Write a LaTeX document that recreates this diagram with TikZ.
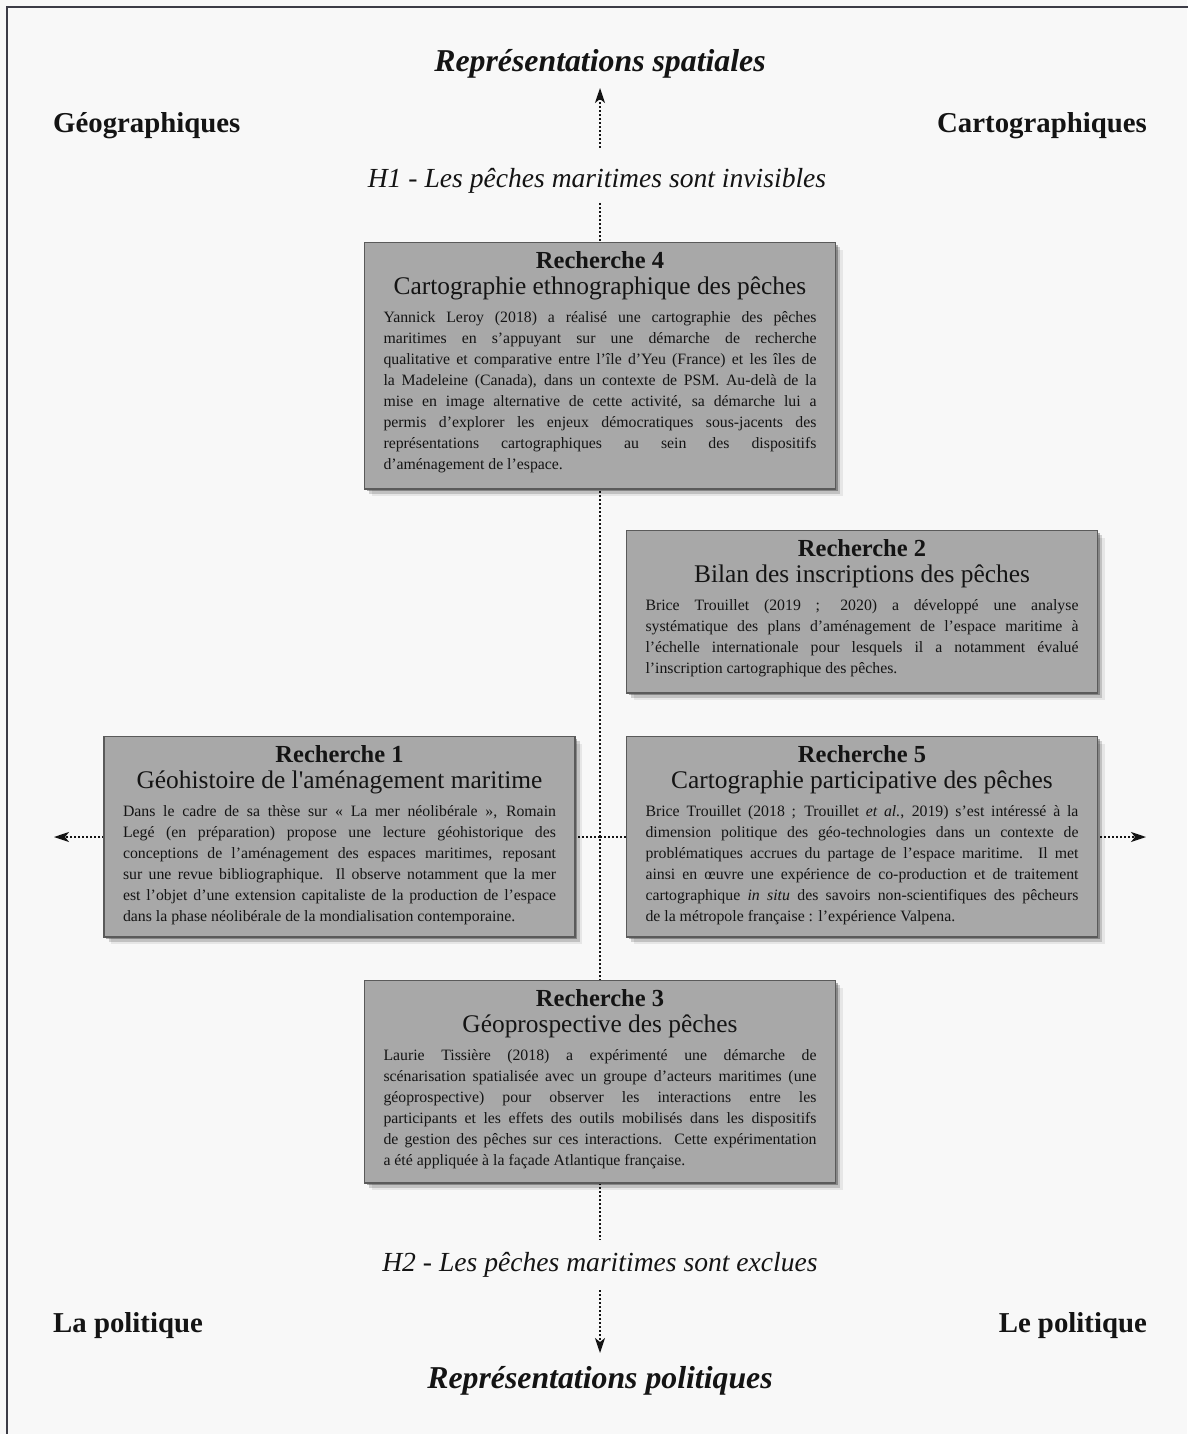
\documentclass[tikz,border=0pt]{standalone}
\usepackage{fontspec}
\setmainfont{Liberation Serif}[Ligatures=TeXOff]
\usetikzlibrary{arrows.meta,shadows}
\definecolor{pagebg}{HTML}{F8F8F8}
\definecolor{boxfill}{HTML}{A8A8A8}
\definecolor{boxline}{HTML}{5A5A5A}
\definecolor{framecol}{HTML}{3C3C46}
\definecolor{inkcol}{HTML}{141414}
\newcommand\bodyfnt{\fontsize{15.8}{21}\selectfont}
\newcommand\headfnt{\fontsize{24.5}{27}\selectfont\bfseries}
\newcommand\subfnt{\fontsize{25.4}{26}\selectfont}
\newcommand\titlefnt{\fontsize{31.8}{34}\selectfont\bfseries\itshape}
\newcommand\cornerfnt{\fontsize{28.8}{30}\selectfont\bfseries}
\newcommand\hypfnt{\fontsize{27.6}{30}\selectfont\itshape}
\pgfdeclarelayer{background}
\pgfsetlayers{background,main}
\tikzset{
  rbox/.style={draw=boxline, line width=1.3pt, fill=boxfill, text=inkcol,
    text width=433pt, inner xsep=19pt, inner ysep=8.5pt, anchor=north,
    font=\bodyfnt, align=justify,
    drop shadow={shadow xshift=2pt, shadow yshift=-2pt, opacity=0.3, fill=black},
    drop shadow={shadow xshift=4.5pt, shadow yshift=-4.5pt, opacity=0.16, fill=black},
    drop shadow={shadow xshift=7pt, shadow yshift=-7pt, opacity=0.07, fill=black}},
  lbl/.style={inner sep=0pt, text=inkcol},
  dotline/.style={line width=1.7pt, dash pattern=on 1.7pt off 2.3pt, draw=inkcol},
  arr/.style={-{Stealth[length=15pt,width=10pt,inset=4pt]}}
}
\newcommand\rhead[2]{{\centering{\headfnt #1\par}{\subfnt #2\par}}\vspace{7pt}\bodyfnt\hyphenpenalty=10000\exhyphenpenalty=10000\tolerance=10000 }
\begin{document}
\begin{tikzpicture}[x=1pt,y=-1pt]
\useasboundingbox (0,0) rectangle (1187,1434);
\begin{pgfonlayer}{background}
\fill[pagebg] (0,0) rectangle (1187,1434);
\draw[framecol, line width=2.4pt] (7,1440) -- (7,7) -- (1195,7);
\end{pgfonlayer}

% labels
\node[lbl, font=\titlefnt] (ttl) at (600,64) {Représentations spatiales};
\node[lbl, font=\titlefnt] (btl) at (600,1381) {Représentations politiques};
\node[lbl, font=\cornerfnt, anchor=west] (geo) at (53,126) {Géographiques};
\node[lbl, font=\cornerfnt, anchor=east] (carto) at (1147,126) {Cartographiques};
\node[lbl, font=\cornerfnt, anchor=west] (lapol) at (53,1326) {La politique};
\node[lbl, font=\cornerfnt, anchor=east] (lepol) at (1147,1326) {Le politique};
\node[lbl, font=\hypfnt] (h1) at (597,181) {H1 - Les pêches maritimes sont invisibles};
\node[lbl, font=\hypfnt] (h2) at (600,1265) {H2 - Les pêches maritimes sont exclues};

% connector ends
\coordinate (upS) at (600,148);
\coordinate (upE) at (600,88);
\coordinate (vT) at (600,203);
\coordinate (vB) at (600,1240);
\coordinate (dnS) at (600,1290);
\coordinate (dnE) at (600,1353);
\coordinate (hC) at (600,837);
\coordinate (hL) at (54,837);
\coordinate (hR) at (1146,837);

% boxes
\node[rbox] (r4) at (600,242) {\rhead{Recherche 4}{Cartographie ethnographique des pêches}%
Yannick Leroy (2018) a réalisé une cartographie des pêches\linebreak
maritimes en s’appuyant sur une démarche de recherche\linebreak
qualitative et comparative entre l’île d’Yeu (France) et les îles de\linebreak
la Madeleine (Canada), dans un contexte de PSM. Au-delà de la\linebreak
mise en image alternative de cette activité, sa démarche lui a\linebreak
permis d’explorer les enjeux démocratiques sous-jacents des\linebreak
représentations cartographiques au sein des dispositifs\linebreak
d’aménagement de l’espace.\par\vspace{8pt}};

\node[rbox] (r2) at (862,530) {\rhead{Recherche 2}{Bilan des inscriptions des pêches}%
Brice Trouillet (2019 ; 2020) a développé une analyse\linebreak
systématique des plans d’aménagement de l’espace maritime à\linebreak
l’échelle internationale pour lesquels il a notamment évalué\linebreak
l’inscription cartographique des pêches.\par\vspace{8pt}};

\node[rbox] (r1) at (339.5,736) {\rhead{Recherche 1}{Géohistoire de l'aménagement maritime}%
Dans le cadre de sa thèse sur «~La mer néolibérale~», Romain\linebreak
Legé (en préparation) propose une lecture géohistorique des\linebreak
conceptions de l’aménagement des espaces maritimes, reposant\linebreak
sur une revue bibliographique. Il observe notamment que la mer\linebreak
est l’objet d’une extension capitaliste de la production de l’espace\linebreak
dans la phase néolibérale de la mondialisation contemporaine.\par\vspace{4pt}};

\node[rbox] (r5) at (862,736) {\rhead{Recherche 5}{Cartographie participative des pêches}%
Brice Trouillet (2018 ; Trouillet \emph{et al.}, 2019) s’est intéressé à la\linebreak
dimension politique des géo-technologies dans un contexte de\linebreak
problématiques accrues du partage de l’espace maritime. Il met\linebreak
ainsi en œuvre une expérience de co-production et de traitement\linebreak
cartographique \emph{in situ} des savoirs non-scientifiques des pêcheurs\linebreak
de la métropole française : l’expérience Valpena.\par\vspace{4pt}};

\node[rbox] (r3) at (600,980) {\rhead{Recherche 3}{Géoprospective des pêches}%
Laurie Tissière (2018) a expérimenté une démarche de\linebreak
scénarisation spatialisée avec un groupe d’acteurs maritimes (une\linebreak
géoprospective) pour observer les interactions entre les\linebreak
participants et les effets des outils mobilisés dans les dispositifs\linebreak
de gestion des pêches sur ces interactions. Cette expérimentation\linebreak
a été appliquée à la façade Atlantique française.\par\vspace{6pt}};

% connectors (behind the boxes)
\begin{pgfonlayer}{background}
\draw[dotline] (vT) -- (vB);
\draw[dotline, arr] (hC) -- (hL);
\draw[dotline, arr] (hC) -- (hR);
\end{pgfonlayer}
\draw[dotline, arr] (upS) -- (upE);
\draw[dotline, arr] (dnS) -- (dnE);
\end{tikzpicture}
\end{document}
